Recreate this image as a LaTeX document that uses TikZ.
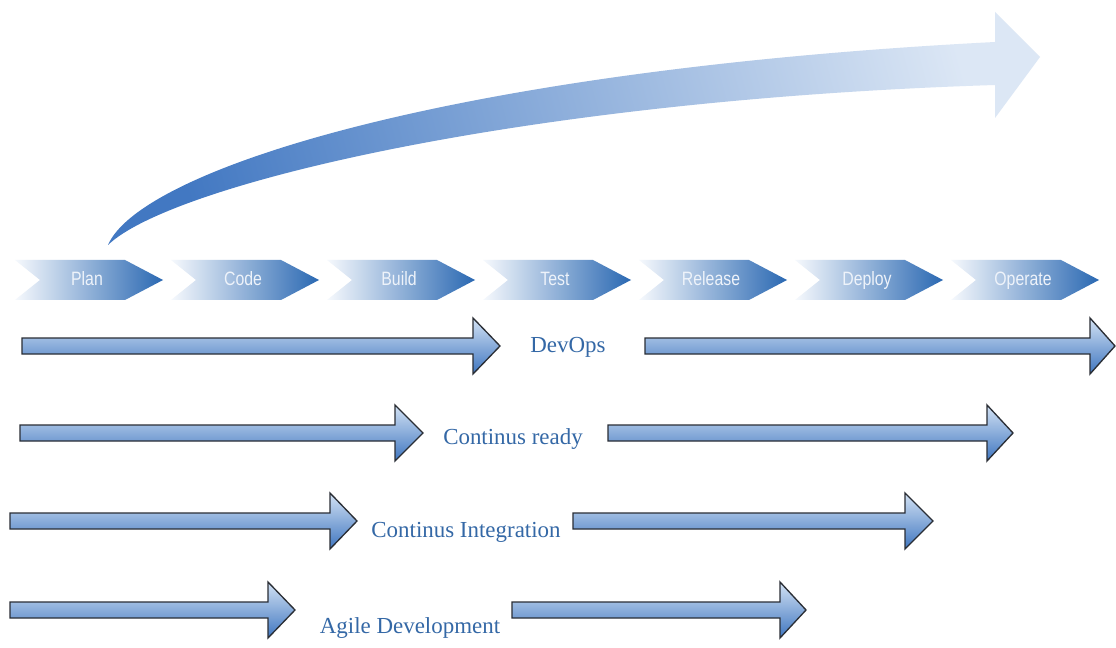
\documentclass[tikz,border=0pt]{standalone}
\usepackage{fontspec}
\setmainfont{Liberation Serif}
\newfontfamily\chevfont[FakeStretch=0.82]{Liberation Sans}
\definecolor{txtblue}{HTML}{3468A6}
\definecolor{arrtop}{HTML}{D3E2F4}
\definecolor{arrbot}{HTML}{3F76C0}
\definecolor{arrline}{HTML}{2A2E35}
\definecolor{chevlight}{HTML}{F6F9FD}
\definecolor{chevdark}{HTML}{2A68B2}
\definecolor{chevtext}{HTML}{EEF3FA}
\definecolor{bigdark}{HTML}{4278C2}
\definecolor{biglight}{HTML}{DCE7F5}
\tikzset{
  hbar/.style={top color=arrtop, bottom color=arrbot, draw=arrline, line width=1pt, line join=miter},
  chev/.style={left color=chevlight, right color=chevdark},
  chevlabel/.style={font=\chevfont\fontsize{14.5}{16}\selectfont, text=chevtext, anchor=base, inner sep=0pt},
  rowlabel/.style={font=\fontsize{17.2}{20}\selectfont, text=txtblue, anchor=base, inner sep=0pt}
}
\newcommand{\harrow}[4]{%
  \path[hbar] ({#1},{#4-8}) -- ({#2},{#4-8}) -- ({#2},{#4-28}) -- ({#3},{#4}) -- ({#2},{#4+28}) -- ({#2},{#4+8}) -- ({#1},{#4+8}) -- cycle;}
\newcommand{\chevron}[3]{%
  \path[chev] ({#1},260) -- ({#1+110},260) -- ({#1+148},280) -- ({#1+110},300) -- ({#1},300) -- ({#1+25},280) -- cycle;
  \node[chevlabel] (#2) at ({#1+72},286) {#3};}
\begin{document}
\begin{tikzpicture}[x=0.75pt,y=-0.75pt]
\useasboundingbox (0,0) rectangle (1116,648);
\fill[white] (0,0) rectangle (1116,648);
% big curved arrow
\path[left color=bigdark, right color=biglight, shading angle=105]
  (108,245) .. controls (140,170) and (450,70) .. (995,42)
  -- (995,12) -- (1040,57) -- (995,118) -- (995,85)
  .. controls (520,100) and (170,185) .. (108,245) -- cycle;
% chevrons
\chevron{15}{plan}{Plan}
\chevron{171}{code}{Code}
\chevron{327}{build}{Build}
\chevron{483}{test}{Test}
\chevron{639}{release}{Release}
\chevron{795}{deploy}{Deploy}
\chevron{951}{operate}{Operate}
% rows
\harrow{22}{473}{500}{346}
\harrow{645}{1090}{1115}{346}
\node[rowlabel] (devops) at (568,352) {DevOps};
\harrow{20}{395}{423}{433}
\harrow{608}{987}{1013}{433}
\node[rowlabel] (cready) at (513,444) {Continus ready};
\harrow{10}{330}{357}{521}
\harrow{573}{905}{933}{521}
\node[rowlabel] (cint) at (466,537) {Continus Integration};
\harrow{10}{268}{295}{610}
\harrow{512}{780}{806}{610}
\node[rowlabel] (agile) at (410,633) {Agile Development};
\end{tikzpicture}
\end{document}
